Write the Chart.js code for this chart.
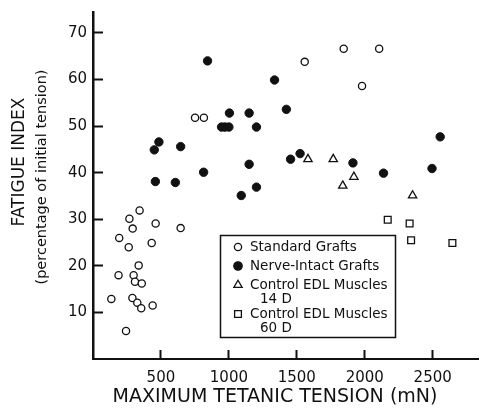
<!DOCTYPE html>
<html>
<head>
<meta charset="utf-8">
<script src="https://cdn.jsdelivr.net/npm/chart.js@4"></script>
<style>
  html, body { margin: 0; padding: 0; background: #fff; }
  .wrapper { width: 485px; height: 408px; }
</style>
</head>
<body>
<div class="wrapper"><canvas id="myChart"></canvas></div>
<script>
const xTicks = [500, 1000, 1500, 2000, 2500];
const yTicks = [10, 20, 30, 40, 50, 60, 70];

const seriesNames = [
  "Standard Grafts",
  "Nerve-Intact Grafts",
  "Control EDL Muscles 14 D",
  "Control EDL Muscles 60 D",
];
// legend text as printed (second line indented)
const legendLines = [
  ["Standard Grafts"],
  ["Nerve-Intact Grafts"],
  ["Control EDL Muscles", "14 D"],
  ["Control EDL Muscles", "60 D"],
];

const standardX = [135, 188, 193, 243, 263, 268, 290, 292, 299, 309, 326, 336, 343, 355, 359, 432, 439, 461, 645, 751, 816, 1558, 1845, 1980, 2106];
const standardY = [12.9, 18.0, 26.0, 6.0, 24.0, 30.1, 13.1, 28.0, 18.0, 16.6, 12.1, 20.1, 31.9, 10.9, 16.2, 24.9, 11.5, 29.1, 28.1, 51.8, 51.8, 63.8, 66.6, 58.6, 66.6];

const nerveX = [451, 459, 485, 606, 645, 814, 843, 946, 971, 1000, 1004, 1091, 1149, 1149, 1203, 1203, 1336, 1423, 1454, 1524, 1913, 2138, 2495, 2555];
const nerveY = [44.9, 38.1, 46.6, 37.9, 45.6, 40.1, 64.0, 49.8, 49.8, 49.8, 52.8, 35.1, 52.8, 41.8, 49.8, 36.9, 59.9, 53.6, 42.9, 44.1, 42.1, 39.9, 40.9, 47.7];

const control14X = [1582, 1768, 1838, 1920, 2352];
const control14Y = [42.9, 42.9, 37.2, 39.1, 35.1];

const control60X = [2169, 2330, 2341, 2645];
const control60Y = [29.9, 29.1, 25.5, 24.9];

const toPoints = (xs, ys) => xs.map((x, i) => ({ x: x, y: ys[i] }));

const ink = "#111";
const font = "'DejaVu Sans', sans-serif";
Chart.defaults.font.family = font;
Chart.defaults.color = ink;

// axis titles and the boxed legend
const decorations = {
  id: "decorations",
  afterDraw(chart) {
    const { ctx } = chart;
    ctx.save();
    ctx.fillStyle = ink;
    ctx.strokeStyle = ink;
    ctx.textAlign = "center";
    ctx.textBaseline = "middle";
    ctx.font = "19px " + font;
    ctx.fillText("MAXIMUM TETANIC TENSION (mN)", 275, 397);
    ctx.save();
    ctx.translate(20, 162);
    ctx.rotate(-Math.PI / 2);
    ctx.font = "17px " + font;
    ctx.fillText("FATIGUE INDEX", 0, 0);
    ctx.restore();
    ctx.save();
    ctx.translate(42, 177);
    ctx.rotate(-Math.PI / 2);
    ctx.font = "14.5px " + font;
    ctx.fillText("(percentage of initial tension)", 0, 0);
    ctx.restore();

    // legend box
    ctx.fillStyle = "#fff";
    ctx.fillRect(220, 235, 175, 102);
    ctx.lineWidth = 1.5;
    ctx.strokeRect(220.5, 235.5, 175, 102);
    const rows = [247, 266, 285, 314];
    ctx.textAlign = "left";
    ctx.font = "13.5px " + font;
    chart.data.datasets.forEach((ds, i) => {
      const y = rows[i];
      const mx = 238;
      ctx.beginPath();
      ctx.lineWidth = 1.3;
      ctx.strokeStyle = ink;
      if (ds.pointStyle === "circle") {
        ctx.arc(mx, y, ds.pointRadius, 0, Math.PI * 2);
      } else if (ds.pointStyle === "triangle") {
        const r = ds.pointRadius;
        ctx.moveTo(mx, y - r);
        ctx.lineTo(mx + r * 0.866, y + r * 0.5);
        ctx.lineTo(mx - r * 0.866, y + r * 0.5);
        ctx.closePath();
      } else {
        const s = ds.pointRadius * Math.SQRT1_2;
        ctx.rect(mx - s, y - s, 2 * s, 2 * s);
      }
      ctx.fillStyle = ds.backgroundColor;
      ctx.fill();
      ctx.stroke();
      ctx.fillStyle = ink;
      legendLines[i].forEach((t, j) => {
        ctx.fillText(t, j === 0 ? 250 : 260, y + j * 14);
      });
    });
    ctx.restore();
  },
};

const ctx = document.getElementById("myChart").getContext("2d");

new Chart(ctx, {
  type: "scatter",
  data: {
    datasets: [
      {
        label: seriesNames[0],
        data: toPoints(standardX, standardY),
        pointStyle: "circle",
        pointRadius: 3.6,
        borderWidth: 1.3,
        borderColor: ink,
        backgroundColor: "#fff",
      },
      {
        label: seriesNames[1],
        data: toPoints(nerveX, nerveY),
        pointStyle: "circle",
        pointRadius: 4.2,
        borderWidth: 1,
        borderColor: ink,
        backgroundColor: ink,
      },
      {
        label: seriesNames[2],
        data: toPoints(control14X, control14Y),
        pointStyle: "triangle",
        pointRadius: 4.8,
        borderWidth: 1.3,
        borderColor: ink,
        backgroundColor: "#fff",
      },
      {
        label: seriesNames[3],
        data: toPoints(control60X, control60Y),
        pointStyle: "rect",
        pointRadius: 4.8,
        borderWidth: 1.3,
        borderColor: ink,
        backgroundColor: "#fff",
      },
    ],
  },
  options: {
    responsive: true,
    maintainAspectRatio: false,
    animation: false,
    devicePixelRatio: 1,
    layout: { padding: { top: 12, left: 0, right: 0, bottom: 0 } },
    plugins: {
      legend: { display: false },
      tooltip: { enabled: false },
    },
    scales: {
      x: {
        type: "linear",
        min: 0,
        max: 2840,
        afterBuildTicks: (s) => { s.ticks = xTicks.map((v) => ({ value: v })); },
        afterFit: (s) => { s.height = 49; s.paddingLeft = 0; s.paddingRight = 0; },
        // negative tick length puts the marks inside the plot
        grid: { drawOnChartArea: false, drawTicks: true, tickLength: -9, tickWidth: 2, tickColor: ink },
        border: { display: true, color: ink, width: 2 },
        ticks: { padding: 19, font: { size: 15 }, color: ink, maxRotation: 0, callback: (v) => String(v) },
      },
      y: {
        type: "linear",
        min: 0,
        max: 74.5,
        afterBuildTicks: (s) => { s.ticks = yTicks.map((v) => ({ value: v })); },
        afterFit: (s) => { s.width = 93; s.paddingTop = 0; s.paddingBottom = 0; },
        grid: { drawOnChartArea: false, drawTicks: true, tickLength: -10, tickWidth: 2, tickColor: ink },
        border: { display: true, color: ink, width: 2.5 },
        ticks: { padding: 16, font: { size: 15 }, color: ink, callback: (v) => String(v) },
      },
    },
  },
  plugins: [decorations],
});
</script>
</body>
</html>
